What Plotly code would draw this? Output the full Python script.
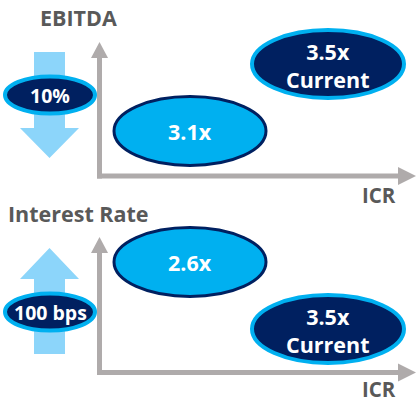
import plotly.graph_objects as go

# ---- content ----
panel_titles = ["EBITDA", "Interest Rate"]
shock_labels = ["10%", "100 bps"]
shock_direction = ["down", "up"]
stressed_icr = ["3.1x", "2.6x"]
current_icr = ["3.5x<br>Current", "3.5x<br>Current"]
axis_label = "ICR"

# ---- styles ----
NAVY = "#002060"
SKY = "#00B0F0"
LIGHT = "#8CD5FA"
GREY = "#AFABAB"
TEXT_GREY = "#595959"
FONT = "Open Sans"

W, H = 416, 402
fig = go.Figure()
shapes = []
annotations = []

# panel geometry (pixel space, y downward)
panels = [
    dict(title_xy=(78, 17), title_anchor="center", ax_x=99.5, ax_top=42, ax_y=176,
         arrow_top=52, arrow_bottom=158, small=(50, 95), big=(190, 131), cur=(328, 64), icr=(379, 195)),
    dict(title_xy=(6, 213), title_anchor="left", ax_x=99.5, ax_top=237, ax_y=372.5,
         arrow_top=248, arrow_bottom=354, small=(50, 312), big=(190, 262), cur=(328, 329), icr=(379, 389)),
]

for i, p in enumerate(panels):
    ax_x, ax_y = p["ax_x"], p["ax_y"]
    # axes lines
    shapes.append(dict(type="line", x0=ax_x, x1=ax_x, y0=p["ax_top"] + 14, y1=ax_y + 2.5,
                       line=dict(color=GREY, width=5)))
    shapes.append(dict(type="line", x0=ax_x - 2.5, x1=400, y0=ax_y, y1=ax_y,
                       line=dict(color=GREY, width=5)))
    # arrowheads
    t = p["ax_top"]
    shapes.append(dict(type="path", path=f"M {ax_x-8.5},{t+16} L {ax_x},{t} L {ax_x+8.5},{t+16} Z",
                       fillcolor=GREY, line=dict(width=0)))
    shapes.append(dict(type="path", path=f"M 398,{ax_y-9} L 416,{ax_y} L 398,{ax_y+9} Z",
                       fillcolor=GREY, line=dict(width=0)))
    # big block arrow
    cx = 49.5
    top, bot = p["arrow_top"], p["arrow_bottom"]
    if shock_direction[i] == "down":
        hb = bot - 30
        path = (f"M {cx-15.5},{top} L {cx+15.5},{top} L {cx+15.5},{hb} L {cx+29.5},{hb} "
                f"L {cx},{bot} L {cx-29.5},{hb} L {cx-15.5},{hb} Z")
    else:
        hb = top + 31
        path = (f"M {cx-15.5},{bot} L {cx+15.5},{bot} L {cx+15.5},{hb} L {cx+29.5},{hb} "
                f"L {cx},{top} L {cx-29.5},{hb} L {cx-15.5},{hb} Z")
    shapes.append(dict(type="path", path=path, fillcolor=LIGHT, line=dict(width=0)))
    # small ellipse
    sx, sy = p["small"]
    shapes.append(dict(type="circle", x0=sx - 45, x1=sx + 45, y0=sy - 18.5, y1=sy + 18.5,
                       fillcolor=NAVY, line=dict(color=SKY, width=4)))
    annotations.append(dict(x=sx, y=sy, text=f"<b>{shock_labels[i]}</b>", showarrow=False,
                            font=dict(family=FONT, size=19.5, color="white")))
    # big stressed ellipse
    bx, by = p["big"]
    shapes.append(dict(type="circle", x0=bx - 76, x1=bx + 76, y0=by - 34.5, y1=by + 34.5,
                       fillcolor=SKY, line=dict(color=NAVY, width=3)))
    annotations.append(dict(x=bx, y=by, text=f"<b>{stressed_icr[i]}</b>", showarrow=False,
                            font=dict(family=FONT, size=21.5, color="white")))
    # current ellipse
    cx2, cy2 = p["cur"]
    shapes.append(dict(type="circle", x0=cx2 - 76, x1=cx2 + 76, y0=cy2 - 34, y1=cy2 + 34,
                       fillcolor=NAVY, line=dict(color=SKY, width=4)))
    annotations.append(dict(x=cx2, y=cy2 + 1, text=f"<b>{current_icr[i]}</b>", showarrow=False,
                            font=dict(family=FONT, size=21.5, color="white")))
    # titles
    tx, ty = p["title_xy"]
    annotations.append(dict(x=tx, y=ty, text=f"<b>{panel_titles[i]}</b>", showarrow=False,
                            xanchor=p["title_anchor"],
                            font=dict(family=FONT, size=21.5, color=TEXT_GREY)))
    ix, iy = p["icr"]
    annotations.append(dict(x=ix, y=iy, text=f"<b>{axis_label}</b>", showarrow=False,
                            font=dict(family=FONT, size=20.5, color=TEXT_GREY)))

fig.update_layout(
    width=W, height=H,
    margin=dict(l=0, r=0, t=0, b=0),
    paper_bgcolor="white", plot_bgcolor="white",
    xaxis=dict(range=[0, W], visible=False, fixedrange=True),
    yaxis=dict(range=[H, 0], visible=False, fixedrange=True),
    shapes=shapes, annotations=annotations, showlegend=False,
)
fig.write_html(
    "out.html",
    config=dict(displayModeBar=False),
    post_script="document.body.style.margin='0';document.body.style.overflow='hidden';",
)
